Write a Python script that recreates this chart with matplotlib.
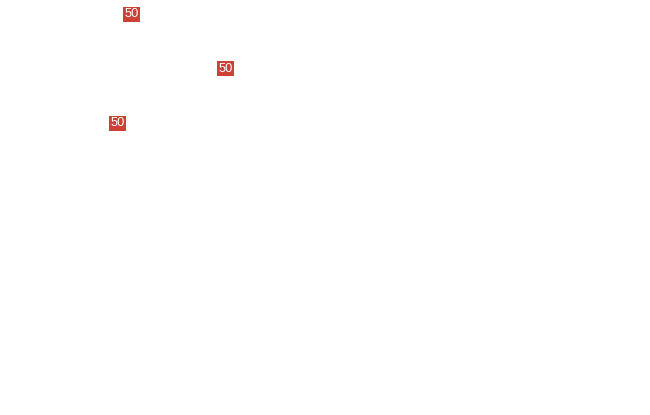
import matplotlib
matplotlib.use("Agg")
from matplotlib import pyplot as plt

# label values and their positions
labels = ["50", "50", "50"]
xValues = [131.5, 225.5, 117.5]
yValues = [400.5, 346.5, 291.5]

fig = plt.figure(figsize=(6.5, 4.15), dpi=100)
ax = fig.add_axes([0, 0, 1, 1])
ax.set_xlim(0, 650)
ax.set_ylim(0, 415)
ax.axis("off")

for x, y, text in zip(xValues, yValues, labels):
    ax.text(x, y, text, fontsize=9.3, color="white", ha="center", va="center",
            family="Liberation Sans",
            bbox=dict(boxstyle="square,pad=0.13", facecolor="#cc4136", edgecolor="none"))

fig.savefig("out.png", dpi=100)
